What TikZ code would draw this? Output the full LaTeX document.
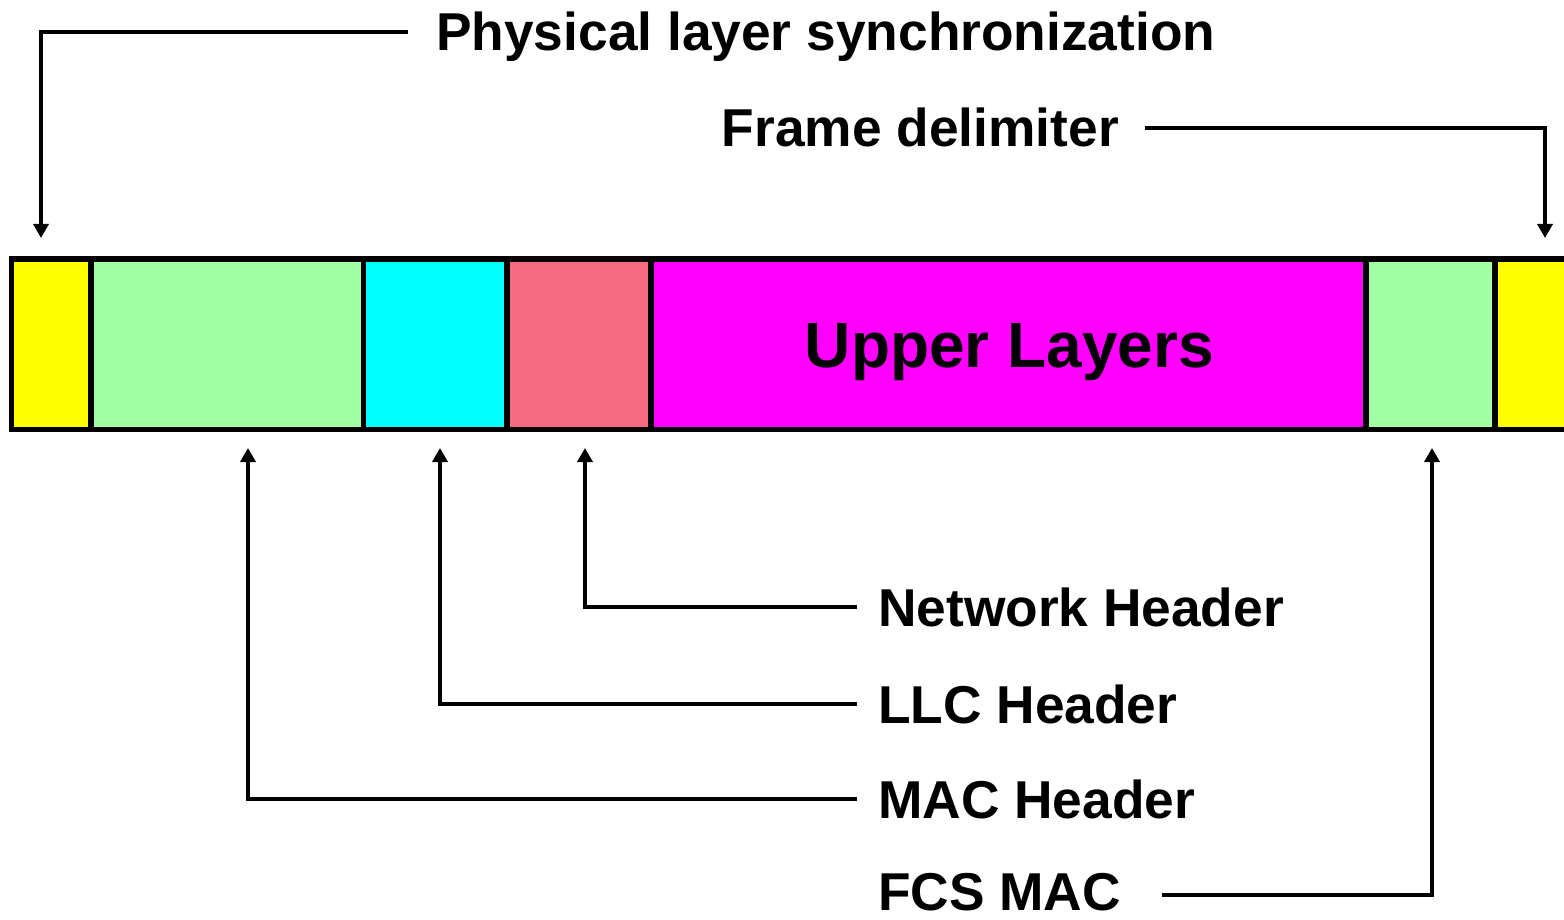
\documentclass[tikz,border=0pt]{standalone}
\usepackage{fontspec}
\setmainfont{Liberation Sans}
\usetikzlibrary{arrows.meta}
\definecolor{fyel}{HTML}{FFFF00}
\definecolor{fgrn}{HTML}{A3FFA3}
\definecolor{fcya}{HTML}{00FFFF}
\definecolor{fpnk}{HTML}{F76A84}
\definecolor{fmag}{HTML}{FF00FF}
\begin{document}
\begin{tikzpicture}[x=1pt,y=-1pt,
 field/.style={draw=black,line width=5.5pt,inner sep=0pt,outer sep=0pt,minimum height=170.5pt,anchor=north west},
 lbl/.style={font=\fontsize{53.3}{60}\selectfont\bfseries,inner sep=0pt,text height=38pt,text depth=0pt},
 conn/.style={line width=3.5pt,-{Triangle[length=14pt,width=15pt]}},
]
\useasboundingbox (0,0) rectangle (1564,920);
% fields
\node[field,fill=fyel,minimum width=79.5pt] (f1) at (11.5,259) {};
\node[field,fill=fgrn,minimum width=272.5pt] (f2) at (91,259) {};
\node[field,fill=fcya,minimum width=143.5pt] (f3) at (363.5,259) {};
\node[field,fill=fpnk,minimum width=143.5pt] (f4) at (507,259) {};
\node[field,fill=fmag,minimum width=715pt] (f5) at (651,259) {};
\node[field,fill=fgrn,minimum width=129pt] (f6) at (1366,259) {};
\node[field,fill=fyel,minimum width=90pt] (f7) at (1495,259) {};
\node[font=\fontsize{64}{70}\selectfont\bfseries,inner sep=0pt,text height=46pt,text depth=0pt] (ul) at ([xshift=1pt]f5.center) {Upper Layers};
% labels
\node[lbl,anchor=west] (phys) at (436,32) {Physical layer synchronization};
\node[lbl,anchor=east] (frame) at (1119,128) {Frame delimiter};
\node[lbl,anchor=west] (net) at (878,607) {Network Header};
\node[lbl,anchor=west] (llc) at (878,704) {LLC Header};
\node[lbl,anchor=west] (mac) at (878,799) {MAC Header};
\node[lbl,anchor=west] (fcs) at (878,891) {FCS MAC};
% arrow tips
\coordinate (t1) at (41,238);
\coordinate (t2) at (1545,238);
\coordinate (t3) at (585,448);
\coordinate (t4) at (440,448);
\coordinate (t5) at (248,448);
\coordinate (t6) at (1432,448);
% connectors
\draw[conn,shorten <=28pt] (phys.west) -| (t1);
\draw[conn,shorten <=26pt] (frame.east) -| (t2);
\draw[conn,shorten <=21pt] (net.west) -| (t3);
\draw[conn,shorten <=21pt] (llc.west) -| (t4);
\draw[conn,shorten <=21pt] (mac.west) -| (t5);
\draw[conn] ([xshift=41pt,yshift=-4pt]fcs.east) -| (t6);
\end{tikzpicture}
\end{document}
